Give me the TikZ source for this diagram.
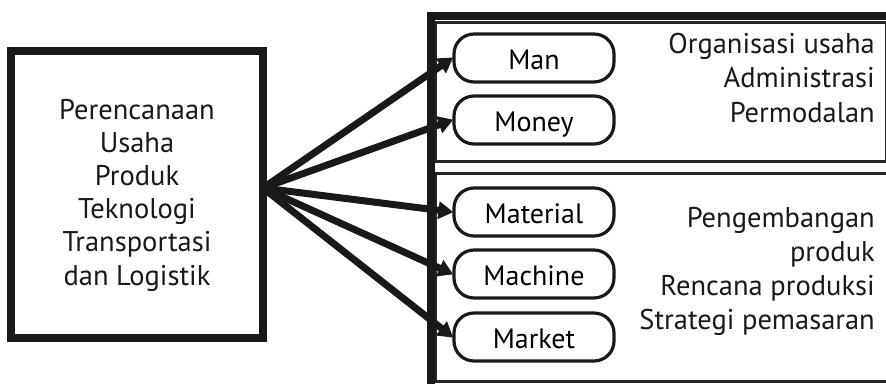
\documentclass[tikz,border=0pt]{standalone}
\usepackage{fontspec}
\setmainfont{PT Sans}
\usetikzlibrary{arrows.meta}
\begin{document}
\begin{tikzpicture}[x=1pt,y=-1pt,
  pill/.style={draw=black!90,line width=3.2pt,rounded corners=20pt,minimum width=160pt,minimum height=48pt,inner sep=0pt,text height=22pt,text depth=0pt,font=\fontsize{28}{30}\selectfont,text=black},
  thickbox/.style={draw=black!90,line width=8pt,inner sep=0pt},
  thinbox/.style={draw=black!85,line width=2.8pt,inner sep=0pt},
  txt/.style={inner sep=0pt,font=\fontsize{28.5}{33.5}\selectfont,text=black!90},
  ltxt/.style={txt,anchor=base},
  rtxt/.style={txt,anchor=base east},
  arr/.style={draw=black!90,line width=7pt,-{Triangle[length=15pt,width=17pt]},shorten >=-1pt}]
\clip (0,0) rectangle (886,383);
\fill[white] (0,0) rectangle (886,383);
% left box
\node[thickbox,minimum width=252pt,minimum height=287pt] (L) at (137,194.5) {};
\node[ltxt] (l1) at (137,119) {Perencanaan};
\node[ltxt] (l2) at (137,152.2) {Usaha};
\node[ltxt] (l3) at (137,185.4) {Produk};
\node[ltxt] (l4) at (137,218.6) {Teknologi};
\node[ltxt] (l5) at (137,251.8) {Transportasi};
\node[ltxt] (l6) at (137,285) {dan Logistik};
% outer right box
\node[thickbox,minimum width=470pt,minimum height=390pt,anchor=north west] (R) at (427,12) {};
\node[thinbox,minimum width=450pt,minimum height=139pt,anchor=north west] (T) at (434.5,21) {};
\node[thinbox,minimum width=460pt,minimum height=208pt,anchor=north west] (B) at (434.5,172) {};
% pills
\node[pill] (man) at (534,58) {Man};
\node[pill] (money) at (534,120) {Money};
\node[pill] (material) at (534,212) {Material};
\node[pill] (machine) at (534,274) {Machine};
\node[pill] (market) at (534,337) {Market};
% right texts
\node[rtxt] (a1) at (875,53) {Organisasi usaha};
\node[rtxt] (a2) at (875,87.5) {Administrasi};
\node[rtxt] (a3) at (875,122) {Permodalan};
\node[rtxt] (b1) at (875,227) {Pengembangan};
\node[rtxt] (b2) at (875,261) {produk};
\node[rtxt] (b3) at (875,295) {Rencana produksi};
\node[rtxt] (b4) at (875,329) {Strategi pemasaran};
% arrows
\coordinate (c) at (263,188);
\draw[arr] (c) -- (man.west);
\draw[arr] (c) -- (money.west);
\draw[arr] (c) -- (material.west);
\draw[arr] (c) -- (machine.west);
\draw[arr] (c) -- (market.west);
\end{tikzpicture}
\end{document}
